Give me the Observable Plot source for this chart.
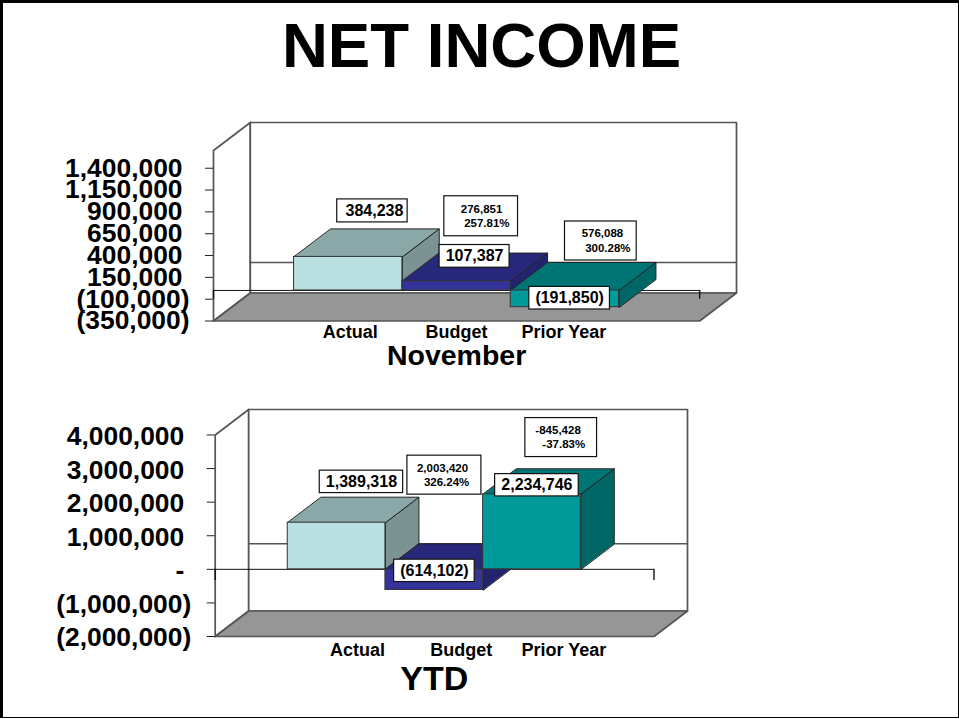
<!DOCTYPE html>
<html>
<head>
<meta charset="utf-8">
<script src="https://cdn.jsdelivr.net/npm/d3@7"></script>
<script src="https://cdn.jsdelivr.net/npm/@observablehq/plot@0.6"></script>
<style>
html,body{margin:0;padding:0;background:#fff;}
#page{position:relative;width:955px;height:714px;border-style:solid;border-color:#000;border-width:3px 1px 1px 3px;overflow:hidden;background:#fff;font-family:"Liberation Sans",Arial,sans-serif;}
#title{position:absolute;left:-3px;width:963px;top:4px;text-align:center;font-size:63.6px;font-weight:bold;line-height:76px;color:#000;}
#page svg{position:absolute;overflow:visible;max-width:none !important;}
</style>
</head>
<body>
<div id="page"><div id="title">NET INCOME</div></div>
<script>
const categories = ["Actual", "Budget", "Prior Year"];
const novemberValues = [384238, 107387, -191850];
const novemberValueLabels = ["384,238", "107,387", "(191,850)"];
const novemberVariance = [null, ["276,851", "257.81%"], ["576,088", "300.28%"]];
const novemberTicks = [1400000, 1150000, 900000, 650000, 400000, 150000, -100000, -350000];
const ytdValues = [1389318, -614102, 2234746];
const ytdValueLabels = ["1,389,318", "(614,102)", "2,234,746"];
const ytdVariance = [null, ["2,003,420", "326.24%"], ["-845,428", "-37.83%"]];
const ytdTicks = [4000000, 3000000, 2000000, 1000000, 0, -1000000, -2000000];

const faces = [
  {front: "#b9e1e2", top: "#8ba8a9", side: "#7b9392"},
  {front: "#333399", top: "#28287a", side: "#23236f"},
  {front: "#009a9a", top: "#007575", side: "#006666"}
];
const FONT = '"Liberation Sans", Arial, sans-serif';

function fmt(v) {
  if (v === 0) return "-";
  const s = d3.format(",")(Math.abs(v));
  return v < 0 ? `(${s})` : s;
}

function panel(cfg) {
  const {values, valueLabels, variance, ticks, xLeft, xRight, depthX, depthY, yMin, yFrontTop} = cfg;
  const P = (x, y, d = 0) => [x + d * depthX, y + d * depthY];
  const poly = (pts, fill, stroke, strokeWidth = 1.2) =>
    Plot.line(pts, {x: d => d[0], y: d => d[1], fill, stroke, strokeWidth, curve: "linear-closed"});
  const wall = "#555";
  const marks = [];
  // walls and floor
  marks.push(poly([P(xLeft, yMin), P(xLeft, yFrontTop), P(xLeft, yFrontTop, 1), P(xLeft, yMin, 1)], "#fff", wall, 1.7));
  marks.push(poly([P(xLeft, yMin, 1), P(xLeft, yFrontTop, 1), P(xRight, yFrontTop, 1), P(xRight, yMin, 1)], "#fff", wall, 1.7));
  // back wall zero line
  marks.push(Plot.line([P(xLeft, 0, 1), P(xRight, 0, 1)], {x: d => d[0], y: d => d[1], stroke: wall, strokeWidth: 1.5}));
  marks.push(poly([P(xLeft, yMin), P(xLeft, yMin, 1), P(xRight, yMin, 1), P(xRight, yMin)], "#969696", wall, 1.7));
  // zero axis with end ticks
  marks.push(Plot.ruleY([0], {x1: xLeft, x2: xRight, stroke: "#111", strokeWidth: 1}));
  [xLeft, xRight].forEach(x =>
    marks.push(Plot.ruleX([x], {x: d => d, y1: 0, y2: -cfg.endTick, stroke: "#111", strokeWidth: 1.4})));
  // y axis: tick marks, then labels (negatives hang past the right edge of the positives)
  marks.push(Plot.axisY(ticks, {anchor: "left", tickSize: 8, text: null, stroke: "#222"}));
  const labelStyle = {anchor: "left", tickSize: 0, tickFormat: fmt, fontSize: 26.4, fontWeight: "bold", fill: "#000", fontFamily: FONT, dy: cfg.labelDy};
  marks.push(Plot.axisY(ticks.filter(t => t >= 0), {...labelStyle, tickPadding: 31}));
  marks.push(Plot.axisY(ticks.filter(t => t < 0), {...labelStyle, tickPadding: 24}));
  // bars, painted from left to right
  values.forEach((v, i) => {
    const f = faces[i], x0 = i, x1 = i + 1, hi = Math.max(v, 0), lo = Math.min(v, 0);
    marks.push(poly([P(x1, lo), P(x1, hi), P(x1, hi, 1), P(x1, lo, 1)], f.side, "#222", 1));
    marks.push(poly([P(x0, hi), P(x1, hi), P(x1, hi, 1), P(x0, hi, 1)], f.top, "#222", 1));
    marks.push(Plot.rect([v], {x1: x0, x2: x1, y1: lo, y2: hi, fill: f.front, stroke: "#333", strokeWidth: 1}));
  });
  // category labels and caption
  categories.forEach((c, i) => {
    marks.push(Plot.text([c], {x: i + 0.5, y: yMin, text: d => d, dx: cfg.catDx[i], dy: cfg.catDy, fontSize: 18, fontWeight: "bold", fill: "#000", fontFamily: FONT, lineAnchor: "middle"}));
  });
  marks.push(Plot.text([cfg.caption], {x: 1.5, y: yMin, text: d => d, dy: cfg.captionDy, fontSize: cfg.captionSize, fontWeight: "bold", fill: "#000", fontFamily: FONT, lineAnchor: "middle"}));
  // annotation boxes, placed relative to their bars
  const box = (i, b, strokeWidth = 1.2) => Plot.rect([0], {
    x1: i + 0.5, x2: i + 0.5, y1: values[i], y2: values[i],
    insetLeft: -b.w / 2, insetRight: -b.w / 2, insetTop: -b.h / 2, insetBottom: -b.h / 2,
    dx: b.dx, dy: b.dy, fill: "#fff", stroke: "#111", strokeWidth
  });
  cfg.valueBoxes.forEach((b, i) => {
    marks.push(box(i, b));
    marks.push(Plot.text([valueLabels[i]], {x: i + 0.5, y: values[i], text: d => d, dx: b.dx + (b.tx || 0), dy: b.dy, fontSize: 16, fontWeight: "bold", fill: "#000", fontFamily: FONT, lineAnchor: "middle"}));
  });
  cfg.varianceBoxes.forEach((b, i) => {
    if (!b) return;
    marks.push(box(i, b));
    variance[i].forEach((line, k) => {
      marks.push(Plot.text([line], {x: i + 0.5, y: values[i], text: d => d, dx: b.dx + b.lines[k], dy: b.dy + (k ? 7 : -7.2), textAnchor: "start", fontSize: 11.5, fontWeight: "bold", fill: "#000", fontFamily: FONT, lineAnchor: "middle"}));
    });
  });
  const svg = Plot.plot({
    width: 959,
    height: cfg.height,
    marginLeft: cfg.marginLeft,
    marginRight: 959 - cfg.pxRight,
    marginTop: cfg.marginTop,
    marginBottom: cfg.marginBottom,
    style: {background: "transparent", overflow: "visible"},
    x: {type: "linear", domain: [xLeft, xRight + depthX], axis: null},
    y: {type: "linear", domain: [yMin, yFrontTop + depthY], axis: null},
    marks
  });
  svg.style.maxWidth = "none";
  svg.style.left = "-4px";
  svg.style.top = (cfg.top - 3) + "px";
  document.getElementById("page").appendChild(svg);
}

panel({
  values: novemberValues, valueLabels: novemberValueLabels, variance: novemberVariance, ticks: novemberTicks,
  xLeft: -0.7435, xRight: 3.7435, depthX: 0.34, depthY: 320700, yMin: -350000, yFrontTop: 1603000, endTick: 100000,
  top: 100, height: 280, marginLeft: 214, pxRight: 737, marginTop: 22, marginBottom: 59.5, labelDy: 0,
  catDx: [2, 0, -1], catDy: 11.5, caption: "November", captionDy: 34.5, captionSize: 28.5,
  valueBoxes: [
    {dx: 24.2, dy: -46, w: 70.4, h: 23, tx: 2},
    {dx: 18, dy: -24.7, w: 70, h: 22.7},
    {dx: 4.7, dy: -9, w: 80.6, h: 22.6}
  ],
  varianceBoxes: [null,
    {dx: 24.6, dy: -64.8, w: 73.7, h: 40, lines: [-20.4, -17]},
    {dx: 35.9, dy: -66.2, w: 71.7, h: 39, lines: [-19.2, -15.7]}
  ]
});

panel({
  values: ytdValues, valueLabels: ytdValueLabels, variance: ytdVariance, ticks: ytdTicks,
  xLeft: -0.743, xRight: 3.75, depthX: 0.343, depthY: 759000, yMin: -2000000, yFrontTop: 4000000, endTick: 330000,
  top: 395, height: 305, marginLeft: 215.7, pxRight: 688, marginTop: 14, marginBottom: 64, labelDy: 1.5,
  catDx: [21, 27, 32], catDy: 14, caption: "YTD", captionDy: 43, captionSize: 34,
  valueBoxes: [
    {dx: 24.85, dy: -40.8, w: 83.4, h: 22.4},
    {dx: 0.15, dy: -19.1, w: 80.6, h: 22.4},
    {dx: 5, dy: -9, w: 83.6, h: 22.3}
  ],
  varianceBoxes: [null,
    {dx: 10.15, dy: -114.8, w: 74, h: 39, lines: [-27.5, -20.5]},
    {dx: 29.3, dy: -56.7, w: 71.7, h: 39, lines: [-25.85, -18.85]}
  ]
});
</script>
</body>
</html>
